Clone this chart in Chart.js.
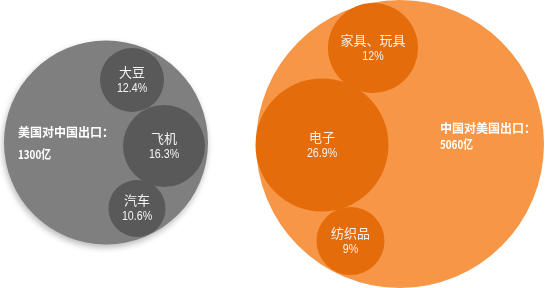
<!DOCTYPE html>
<html>
<head>
<meta charset="utf-8">
<script src="https://cdn.jsdelivr.net/npm/chart.js@4/dist/chart.umd.min.js"></script>
<style>
html,body{margin:0;padding:0;background:#fff;}
#wrap{width:550px;height:288px;}
</style>
</head>
<body>
<div id="wrap"><canvas id="c"></canvas></div>
<script>
// ---- data ----
const groupTitles = ['美国对中国出口：', '中国对美国出口：'];
const groupTotals = ['1300亿', '5060亿'];
const usCategories = ['大豆', '飞机', '汽车'];
const usShares = ['12.4%', '16.3%', '10.6%'];
const cnCategories = ['家具、玩具', '电子', '纺织品'];
const cnShares = ['12%', '26.9%', '9%'];

// bubble placement in the hidden axes' units
const groupX = [106, 400];
const groupY = [142.5, 144];
const groupR = [102, 144];
const usX = [132, 164, 137];
const usY = [80, 146, 208.5];
const usR = [32, 41, 28.5];
const cnX = [373, 322, 350.5];
const cnY = [48, 145, 241];
const cnR = [45, 66.5, 34];

function pts(xs, ys, rs){ return xs.map((x,i)=>({x:x, y:ys[i], r:rs[i]})); }

function narrowText(ctx, text, x, y, sx, align){
  ctx.save();
  ctx.translate(x, y);
  ctx.scale(sx, 1);
  ctx.textAlign = align;
  ctx.fillText(text, 0, 0);
  ctx.restore();
}

const labelPlugin = {
  id: 'labels',
  beforeDatasetDraw(chart, args){
    if (args.index === 0) {
      const ctx = chart.ctx;
      ctx.save();
      ctx.shadowColor = 'rgba(0,0,0,0.28)';
      ctx.shadowBlur = 6;
      ctx.shadowOffsetX = -1;
      ctx.shadowOffsetY = 3;
    }
  },
  afterDatasetDraw(chart, args){
    if (args.index === 0) chart.ctx.restore();
  },
  afterDatasetsDraw(chart){
    const ctx = chart.ctx;
    ctx.save();
    ctx.textBaseline = 'middle';
    const smallSets = [[1, usCategories, usShares], [3, cnCategories, cnShares]];
    smallSets.forEach(([di, names, shares]) => {
      const meta = chart.getDatasetMeta(di);
      meta.data.forEach((el, j) => {
        ctx.fillStyle = '#f2f2f2';
        ctx.textAlign = 'center';
        ctx.font = '13px "Noto Sans CJK SC", sans-serif';
        ctx.fillText(names[j], el.x, el.y - 8);
        ctx.font = '13px "Liberation Sans", sans-serif';
        narrowText(ctx, shares[j], el.x, el.y + 8, 0.82, 'center');
      });
    });
    const bigSets = [[0, -88, -10.5, 22.5], [2, 40, -15.5, 16]];
    bigSets.forEach(([di, dx, dy, gap], g) => {
      const el = chart.getDatasetMeta(di).data[0];
      ctx.fillStyle = '#ffffff';
      ctx.textAlign = 'left';
      ctx.font = 'bold 12px "Noto Sans CJK SC", sans-serif';
      ctx.fillText(groupTitles[g], el.x + dx, el.y + dy);
      ctx.font = 'bold 12px "Noto Sans CJK SC", sans-serif';
      narrowText(ctx, groupTotals[g], el.x + dx, el.y + dy + gap, 0.82, 'left');
    });
    ctx.restore();
  }
};

new Chart(document.getElementById('c'), {
  type: 'bubble',
  data: {
    datasets: [
      { data: pts([groupX[0]],[groupY[0]],[groupR[0]]), backgroundColor: '#7f7f7f', borderWidth: 0, order: 2, clip: false },
      { data: pts(usX, usY, usR), backgroundColor: '#595959', borderWidth: 0, order: 1, clip: false },
      { data: pts([groupX[1]],[groupY[1]],[groupR[1]]), backgroundColor: '#f79646', borderWidth: 0, order: 2, clip: false },
      { data: pts(cnX, cnY, cnR), backgroundColor: '#e46c0a', borderWidth: 0, order: 1, clip: false }
    ]
  },
  options: {
    responsive: true,
    maintainAspectRatio: false,
    animation: false,
    events: [],
    layout: { padding: 0, autoPadding: false },
    plugins: { legend: { display: false }, tooltip: { enabled: false } },
    scales: {
      x: { type: 'linear', min: 0, max: 550, display: false },
      y: { type: 'linear', min: 0, max: 288, reverse: true, display: false }
    }
  },
  plugins: [labelPlugin]
});
</script>
</body>
</html>
